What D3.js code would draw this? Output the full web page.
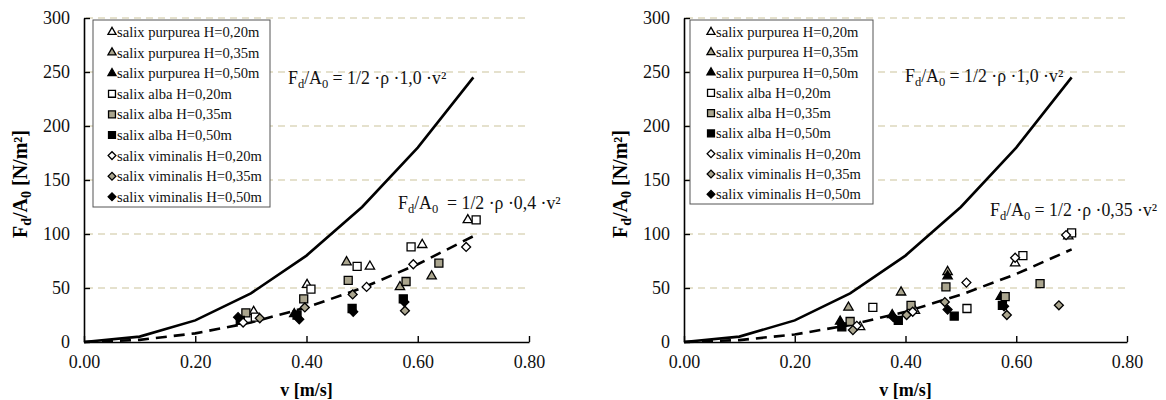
<!DOCTYPE html>
<html><head><meta charset="utf-8">
<script src="https://cdn.jsdelivr.net/npm/d3@7"></script>
<style>body{margin:0;background:#fff}svg{display:block}text{font-family:"Liberation Serif","Times New Roman",serif}</style>
</head><body><svg id="c" width="1166" height="400"></svg>
<script>
// ---------- data ----------
const xTicks = [0, 0.2, 0.4, 0.6, 0.8];
const yTicks = [0, 50, 100, 150, 200, 250, 300];
const curveV = [0, 0.1, 0.2, 0.3, 0.4, 0.5, 0.6, 0.7];
const curveSolid = [0, 5, 20, 45, 80, 125, 180, 245];          // 1/2*rho*1.0*v^2
const curveDashL = [0, 2, 8, 18, 32, 50, 72, 98];              // 1/2*rho*0.4*v^2
const curveDashR = [0, 1.75, 7, 15.75, 28, 43.75, 63, 85.75];  // 1/2*rho*0.35*v^2
const legendLabels = ["salix purpurea H=0,20m","salix purpurea H=0,35m","salix purpurea H=0,50m",
  "salix alba H=0,20m","salix alba H=0,35m","salix alba H=0,50m",
  "salix viminalis H=0,20m","salix viminalis H=0,35m","salix viminalis H=0,50m"];
// left panel series [v, Fd/A0]
const L_purp20 = [[0.305,28],[0.401,53],[0.514,70],[0.608,90],[0.690,113]];
const L_purp35 = [[0.472,74],[0.568,51],[0.625,61]];
const L_purp50 = [[0.378,26]];
const L_alba20 = [[0.308,23],[0.408,49],[0.491,70],[0.588,88],[0.705,113]];
const L_alba35 = [[0.291,27],[0.395,40],[0.475,57],[0.579,56],[0.638,73]];
const L_alba50 = [[0.281,20],[0.383,25],[0.482,31],[0.574,40]];
const L_vimi20 = [[0.286,18],[0.508,51],[0.592,72],[0.687,88]];
const L_vimi35 = [[0.316,22],[0.397,32],[0.483,44],[0.577,29]];
const L_vimi50 = [[0.277,23],[0.387,21],[0.484,28],[0.576,37]];
// right panel series
const R_purp20 = [[0.318,14],[0.417,29],[0.598,73],[0.694,98]];
const R_purp35 = [[0.297,32],[0.392,46],[0.476,65]];
const R_purp50 = [[0.282,19],[0.376,25],[0.476,61],[0.572,42]];
const R_alba20 = [[0.341,32],[0.511,31],[0.612,80],[0.700,101]];
const R_alba35 = [[0.300,19],[0.410,34],[0.473,51],[0.580,42],[0.643,54]];
const R_alba50 = [[0.285,14],[0.387,20],[0.488,24],[0.575,34]];
const R_vimi20 = [[0.312,15],[0.413,28],[0.510,55],[0.598,78],[0.690,99]];
const R_vimi35 = [[0.305,11],[0.402,25],[0.471,37],[0.583,25],[0.677,34]];
const R_vimi50 = [[0.378,23],[0.476,30],[0.578,33]];

// ---------- styling ----------
const GREY = "#aaa58e";
const shapes = ["tri","tri","tri","sq","sq","sq","dia","dia","dia"];
const fills = ["#fff",GREY,"#000","#fff",GREY,"#000","#fff",GREY,"#000"];

const svg = d3.select("#c");

function marker(g, shape, fill, x, y, s) {
  let sym, size, rot = 0;
  if (shape === "tri") { sym = d3.symbolTriangle; size = 38*s; }
  else if (shape === "sq") { sym = d3.symbolSquare; size = 64*s; }
  else { sym = d3.symbolSquare; size = 40*s; rot = 45; }
  g.append("path").attr("d", d3.symbol().type(sym).size(size)())
    .attr("transform", `translate(${x},${y}) rotate(${rot})`)
    .attr("fill", fill).attr("stroke", "#000").attr("stroke-width", 1.3);
}

function eq(g, x, y, coef, gap) {
  const t = g.append("text").attr("x", x).attr("y", y).attr("font-size", 17.8).attr("fill", "#111");
  t.append("tspan").text("F");
  t.append("tspan").attr("dy", 4).attr("font-size", 12.5).text("d");
  t.append("tspan").attr("dy", -4).text("/A");
  t.append("tspan").attr("dy", 4).attr("font-size", 12.5).text("0");
  t.append("tspan").attr("dy", -4).text((gap ? "\u00a0 = " : " = ") + "1/2 \u00b7\u03c1 \u00b7" + coef + " \u00b7v\u00b2");
}

function panel(o) {
  const g = svg.append("g");
  const x = d3.scaleLinear().domain([0, 0.8]).range([o.x0, o.x1]);
  const y = d3.scaleLinear().domain([0, 300]).range([342, 18]);
  // grid
  g.selectAll("line.grid").data(yTicks.filter(d => d > 0)).join("line")
    .attr("x1", o.x0 + 2).attr("x2", o.x1).attr("y1", d => y(d)).attr("y2", d => y(d))
    .attr("stroke", "#ddd7bd").attr("stroke-width", 1.5).attr("stroke-dasharray", "7,5");
  // axes
  const ax = g.append("g").attr("transform", "translate(0,342)")
    .call(d3.axisBottom(x).tickValues(xTicks).tickFormat(d3.format(".2f")).tickSizeInner(-6).tickSizeOuter(0).tickPadding(13));
  const ay = g.append("g").attr("transform", `translate(${o.x0},0)`)
    .call(d3.axisLeft(y).tickValues(yTicks).tickSizeInner(-6).tickSizeOuter(0).tickPadding(14));
  [ax, ay].forEach(a => {
    a.select(".domain").attr("stroke", "#000").attr("stroke-width", 1.6);
    a.selectAll(".tick line").attr("stroke", "#000").attr("stroke-width", 1.4);
    a.selectAll("text").attr("font-family", "Liberation Serif").attr("font-size", 18).attr("fill", "#111");
  });
  ax.selectAll(".tick text").attr("dy", "0.71em");
  // titles
  g.append("text").attr("x", (o.x0 + o.x1) / 2).attr("y", 396).attr("text-anchor", "middle")
    .attr("font-size", 18).attr("font-weight", "bold").text("v [m/s]");
  const yt = g.append("text").attr("transform", `translate(${o.x0 - 57},184) rotate(-90)`)
    .attr("text-anchor", "middle").attr("font-size", 20).attr("font-weight", "bold");
  yt.append("tspan").text("F");
  yt.append("tspan").attr("dy", 4).attr("font-size", 14).text("d");
  yt.append("tspan").attr("dy", -4).text("/A");
  yt.append("tspan").attr("dy", 4).attr("font-size", 14).text("0");
  yt.append("tspan").attr("dy", -4).text(" [N/m\u00b2]");
  // curves
  const line = d3.line().x((d, i) => x(curveV[i])).y(d => y(d));
  g.append("path").attr("d", line(curveSolid)).attr("fill", "none").attr("stroke", "#000").attr("stroke-width", 2.6);
  g.append("path").attr("d", line(o.dash)).attr("fill", "none").attr("stroke", "#000").attr("stroke-width", 2.6)
    .attr("stroke-dasharray", "11,7");
  // points
  o.series.forEach((s, i) => s.forEach(p => marker(g, shapes[i], fills[i], x(p[0]), y(p[1]), 1)));
  // equations
  eq(g, o.eq1[0], o.eq1[1], "1,0", false);
  eq(g, o.eq2[0], o.eq2[1], o.coef, o.gap);
  // legend
  g.append("rect").attr("x", o.lg[0]).attr("y", 20).attr("width", o.lg[1]).attr("height", o.lg[2])
    .attr("fill", "#fff").attr("stroke", "#555").attr("stroke-width", 1);
  legendLabels.forEach((lab, i) => {
    const yy = 32 + i * 20.6 * o.lgStep;
    marker(g, shapes[i], fills[i], o.lg[0] + o.lgSym, yy, 0.75);
    g.append("text").attr("x", o.lg[0] + o.lgSym + 5).attr("y", yy + 5).attr("font-size", 14.6)
      .attr("fill", "#111").text(lab);
  });
}

panel({x0: 84, x1: 529, dash: curveDashL, coef: "0,4", gap: true,
  eq1: [288, 84], eq2: [398, 209],
  lg: [93, 177, 187], lgSym: 19, lgStep: 1,
  series: [L_purp20, L_purp35, L_purp50, L_alba20, L_alba35, L_alba50, L_vimi20, L_vimi35, L_vimi50]});
panel({x0: 684, x1: 1127, dash: curveDashR, coef: "0,35", gap: false,
  eq1: [905, 82], eq2: [990, 216],
  lg: [690, 183, 184], lgSym: 21, lgStep: 0.985,
  series: [R_purp20, R_purp35, R_purp50, R_alba20, R_alba35, R_alba50, R_vimi20, R_vimi35, R_vimi50]});
</script></body></html>
